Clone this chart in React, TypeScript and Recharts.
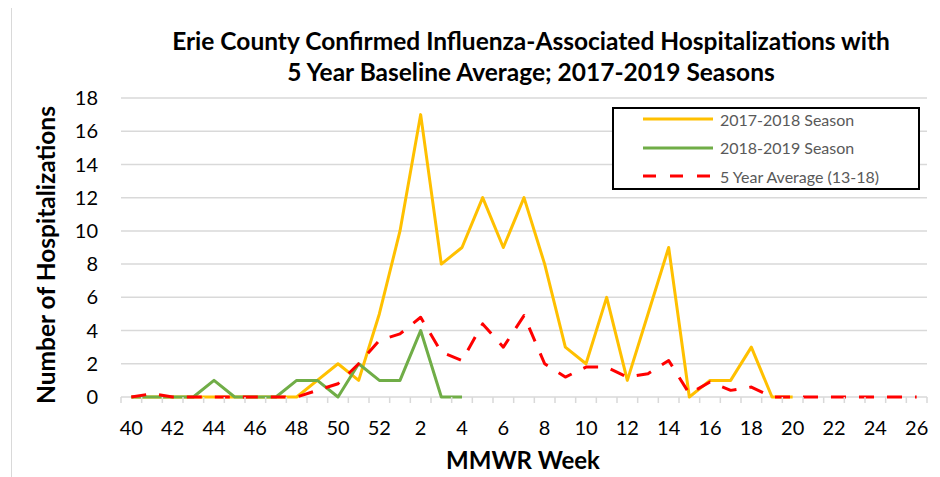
import { LineChart, Line, XAxis, YAxis, CartesianGrid } from "recharts";

// MMWR weeks, season runs 40..52 then 1..26
const weeks = [40, 41, 42, 43, 44, 45, 46, 47, 48, 49, 50, 51, 52, 1, 2, 3, 4, 5, 6, 7, 8, 9, 10, 11, 12, 13, 14, 15, 16, 17, 18, 19, 20, 21, 22, 23, 24, 25, 26];

const season1718 = [0, 0, 0, 0, 0, 0, 0, 0, 0, 1, 2, 1, 5, 10, 17, 8, 9, 12, 9, 12, 8, 3, 2, 6, 1, 5, 9, 0, 1, 1, 3, 0, 0, null, null, null, null, null, null];
const season1819 = [0, 0, 0, 0, 1, 0, 0, 0, 1, 1, 0, 2, 1, 1, 4, 0, 0, null, null, null, null, null, null, null, null, null, null, null, null, null, null, null, null, null, null, null, null, null, null];
const fiveYearAvg = [0, 0.2, 0, 0, 0, 0, 0, 0, 0, 0.4, 0.8, 2, 3.4, 3.8, 4.8, 2.7, 2.2, 4.4, 3, 4.9, 2, 1.2, 1.8, 1.8, 1.2, 1.4, 2.2, 0.2, 0.9, 0.4, 0.6, 0, 0, 0, 0, 0, 0, 0, 0];

const yTicks = [0, 2, 4, 6, 8, 10, 12, 14, 16, 18];

const series = [
  { key: "s1718", name: "2017-2018 Season", color: "#FFC000", dash: undefined as string | undefined },
  { key: "s1819", name: "2018-2019 Season", color: "#70AD47", dash: undefined as string | undefined },
  { key: "avg", name: "5 Year Average (13-18)", color: "#FF0000", dash: "15 13" },
];

const data = weeks.map((w, i) => ({
  i,
  week: w,
  s1718: season1718[i],
  s1819: season1819[i],
  avg: fiveYearAvg[i],
}));

// tick positions: category centers (labels) plus category boundaries (tick marks)
const xTicks: number[] = [];
for (let k = -1; k < weeks.length * 2; k++) xTicks.push(k / 2);

const FONT = "Lato, 'Open Sans', sans-serif";

const WeekTick = (props: any) => {
  const { x, y, payload } = props;
  const v = payload.value;
  if (!Number.isInteger(v)) {
    return <line x1={x} x2={x} y1={y} y2={y + 6} stroke="#D9D9D9" strokeWidth={1.5} />;
  }
  if (v % 2 !== 0) return null;
  return (
    <text x={x} y={y + 38} textAnchor="middle" fontSize={20} fontFamily={FONT} fill="#000">
      {weeks[v]}
    </text>
  );
};

const App = () => {
  return (
    <div style={{ position: "relative", width: 940, height: 477, margin: "-8px 0 0 -8px", fontFamily: FONT, background: "#fff" }}>
      <div style={{ position: "absolute", left: 11, top: 3, right: 0, bottom: 0, borderLeft: "1px solid #D9D9D9", borderTop: "1px solid #D9D9D9" }} />
      <div style={{ position: "absolute", left: 0, top: 0 }}>
        <LineChart width={940} height={477} data={data} margin={{ top: 98, right: 13, bottom: 0, left: 0 }}>
          <CartesianGrid vertical={false} stroke="#D9D9D9" strokeWidth={1.5} />
          <XAxis
            dataKey="i"
            type="number"
            domain={[-0.5, weeks.length - 0.5]}
            ticks={xTicks}
            interval={0}
            height={80}
            tickSize={0}
            tickMargin={0}
            tickLine={false}
            axisLine={false}
            tick={<WeekTick />}
          />
          <YAxis
            domain={[0, 18]}
            ticks={yTicks}
            width={121}
            tickSize={0}
            tickMargin={23}
            tickLine={false}
            axisLine={false}
            tick={{ fontSize: 20, fontFamily: FONT, fill: "#000" }}
          />
          {series.map((s) => (
            <Line
              key={s.key}
              dataKey={s.key}
              name={s.name}
              stroke={s.color}
              strokeWidth={3}
              strokeDasharray={s.dash}
              strokeLinejoin="round"
              dot={false}
              activeDot={false}
              connectNulls={false}
              isAnimationActive={false}
            />
          ))}
        </LineChart>
      </div>
      <div style={{ position: "absolute", left: 0, width: 1062, top: 25, textAlign: "center", fontWeight: 700, fontSize: 24.5, lineHeight: "31px", color: "#000", whiteSpace: "nowrap" }}>
        Erie County Confirmed Influenza-Associated Hospitalizations with
        <br />
        5 Year Baseline Average; 2017-2019 Seasons
      </div>
      <div style={{ position: "absolute", left: 45, top: 255, transform: "translate(-50%, -50%) rotate(-90deg)", whiteSpace: "nowrap", fontWeight: 700, fontSize: 24.5, color: "#000" }}>
        Number of Hospitalizations
      </div>
      <div style={{ position: "absolute", left: 523, top: 459, transform: "translate(-50%, -50%)", whiteSpace: "nowrap", fontWeight: 700, fontSize: 24, color: "#000" }}>
        MMWR Week
      </div>
      <div style={{ position: "absolute", left: 612, top: 107, width: 304, height: 79, border: "2px solid #000", background: "#fff" }}>
        {series.map((s, idx) => (
          <div key={s.key} style={{ position: "absolute", left: 28, top: -2 + idx * 28.5, height: 24, display: "flex", alignItems: "center" }}>
            <svg width={72} height={8} style={{ marginRight: 6 }}>
              <line x1={1} x2={71} y1={4} y2={4} stroke={s.color} strokeWidth={3} strokeDasharray={s.dash ? "13 14" : undefined} />
            </svg>
            <span style={{ fontSize: 16, color: "#595959", whiteSpace: "nowrap" }}>{s.name}</span>
          </div>
        ))}
      </div>
    </div>
  );
};

export default App;
